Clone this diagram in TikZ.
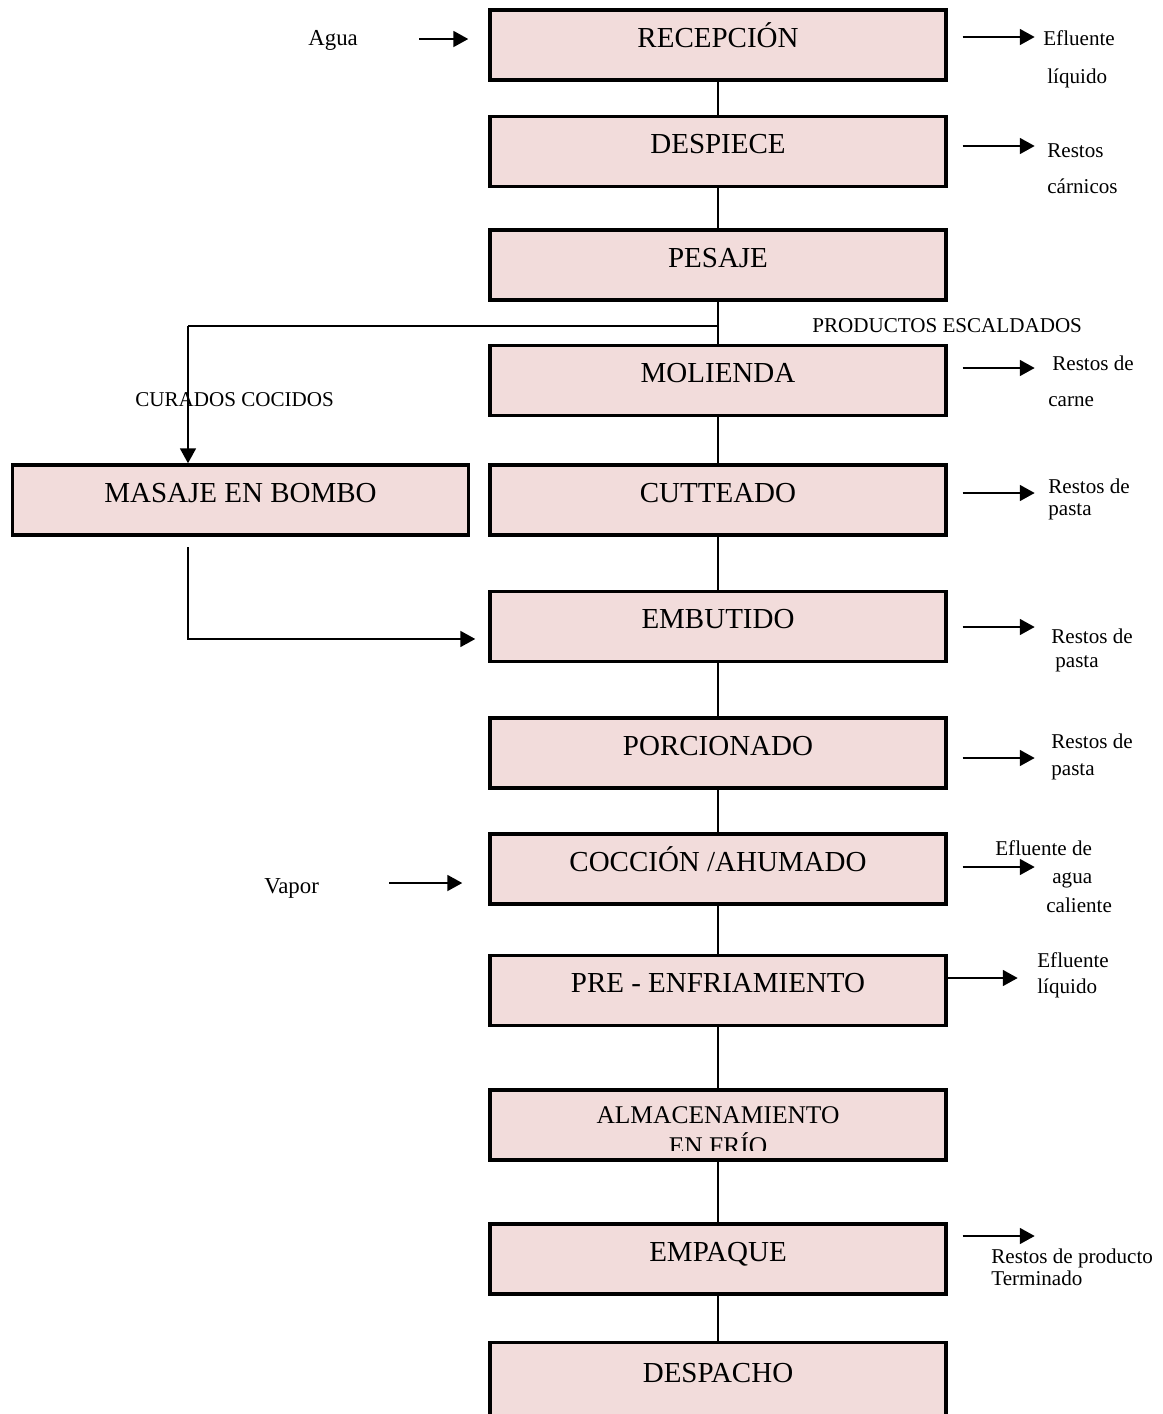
\documentclass[tikz,border=0pt]{standalone}
\usepackage{fontspec}
\setmainfont{Liberation Serif}
\usetikzlibrary{arrows.meta,calc}
\definecolor{boxfill}{HTML}{F2DCDB}
\begin{document}
\begin{tikzpicture}[x=0.02cm,y=-0.02cm,
  stage/.style={draw=black, line width=2pt, fill=boxfill,
    minimum width=9.12cm, minimum height=1.4cm, inner sep=0pt,
    font=\fontsize{16.5}{18}\selectfont, text height=12pt, text depth=9.2pt},
  link/.style={line width=1.3pt},
  flow/.style={line width=1.3pt, -{Triangle[length=8.5pt,width=9pt]}},
  note/.style={anchor=base west, inner sep=0pt, font=\fontsize{12}{14}\selectfont},
  feed/.style={anchor=base west, inner sep=0pt, font=\fontsize{13}{15}\selectfont},
  ]
\useasboundingbox (0,0) rectangle (1163,1414);

% process stages
\node[stage] (rec) at (718,45) {RECEPCIÓN};
\node[stage] (desp) at (718,151.5) {DESPIECE};
\node[stage] (pes) at (718,265) {PESAJE};
\node[stage] (mol) at (718,380.5) {MOLIENDA};
\node[stage] (cut) at (718,500) {CUTTEADO};
\node[stage] (mas) at (240.5,500) {MASAJE EN BOMBO};
\node[stage] (emb) at (718,626.5) {EMBUTIDO};
\node[stage] (por) at (718,753) {PORCIONADO};
\node[stage] (coc) at (718,869) {COCCIÓN /AHUMADO};
\node[stage] (pre) at (718,990.5) {PRE - ENFRIAMIENTO};
\node[stage] (alm) at (718,1125) {};
\node[stage] (emq) at (718,1259) {EMPAQUE};
\node[stage, minimum height=1.9cm, text depth=21.1pt] (dch) at (718,1390) {DESPACHO};

% two-line stage, text cut off by its frame
\begin{scope}
  \clip (490,1088) rectangle (946,1150);
  \node[anchor=base, inner sep=0pt, font=\fontsize{14.5}{16}\selectfont] (almA) at ([yshift=0.6pt]alm.center) {ALMACENAMIENTO};
  \node[anchor=base, inner sep=0pt, font=\fontsize{14.5}{16}\selectfont] (almB) at ([yshift=-16.5pt]alm.center) {EN FRÍO};
\end{scope}

% main line
\draw[link] (rec) -- (desp);
\draw[link] (desp) -- (pes);
\draw[link] (pes) -- (mol);
\draw[link] (mol) -- (cut);
\draw[link] (cut) -- (emb);
\draw[link] (emb) -- (por);
\draw[link] (por) -- (coc);
\draw[link] (coc) -- (pre);
\draw[link] (pre) -- (alm);
\draw[link] (alm) -- (emq);
\draw[link] (emq) -- (dch);

% branch for cured cooked products
\coordinate (bend) at (188,326);
\coordinate (split) at (pes.south |- bend);
\coordinate (ret) at (188,547);
\draw[link] (split) -- (bend);
\draw[flow] (bend) -- (bend |- mas.north);
\draw[flow, shorten >=7.4pt] (ret) |- ([yshift=-7.1pt]emb.west);
\node[note] (escal) at (812,332) {PRODUCTOS ESCALDADOS};
\node[note] (cur) at (135,406) {CURADOS COCIDOS};

% inputs
\draw[flow] ([shift={(-69,-6)}]rec.west) -- ++(49,0);
\node[feed] (agua) at (308,45) {Agua};
\draw[flow] ([shift={(-99,14)}]coc.west) -- ++(73,0);
\node[feed] (vapor) at (264,893) {Vapor};

% outputs
\draw[flow] ([shift={(15,-8)}]rec.east) -- ++(72,0);
\node[note] (o1a) at (1043,45) {Efluente};
\node[note] (o1b) at (1047,83) {líquido};

\draw[flow] ([shift={(15,-5.5)}]desp.east) -- ++(72,0);
\node[note] (o2a) at (1047,157) {Restos};
\node[note] (o2b) at (1047,193) {cárnicos};

\draw[flow] ([shift={(15,-12.5)}]mol.east) -- ++(72,0);
\node[note] (o3a) at (1052,370) {Restos de};
\node[note] (o3b) at (1048,406) {carne};

\draw[flow] ([shift={(15,-7)}]cut.east) -- ++(72,0);
\node[note] (o4a) at (1048,493) {Restos de};
\node[note] (o4b) at (1048,515) {pasta};

\draw[flow] ([shift={(15,0.5)}]emb.east) -- ++(72,0);
\node[note] (o5a) at (1051,643) {Restos de};
\node[note] (o5b) at (1055,667) {pasta};

\draw[flow] ([shift={(15,5)}]por.east) -- ++(72,0);
\node[note] (o6a) at (1051,748) {Restos de};
\node[note] (o6b) at (1051,775) {pasta};

\draw[flow] ([shift={(15,-2)}]coc.east) -- ++(72,0);
\node[note] (o7a) at (995,855) {Efluente de};
\node[note] (o7b) at (1052,883) {agua};
\node[note] (o7c) at (1046,912) {caliente};

\draw[flow] ([shift={(0,-12.5)}]pre.east) -- ++(70,0);
\node[note] (o8a) at (1037,967) {Efluente};
\node[note] (o8b) at (1037,993) {líquido};

\draw[flow] ([shift={(15,-23)}]emq.east) -- ++(72,0);
\node[note] (o9a) at (991,1263) {Restos de producto};
\node[note] (o9b) at (991,1285) {Terminado};
\end{tikzpicture}
\end{document}
